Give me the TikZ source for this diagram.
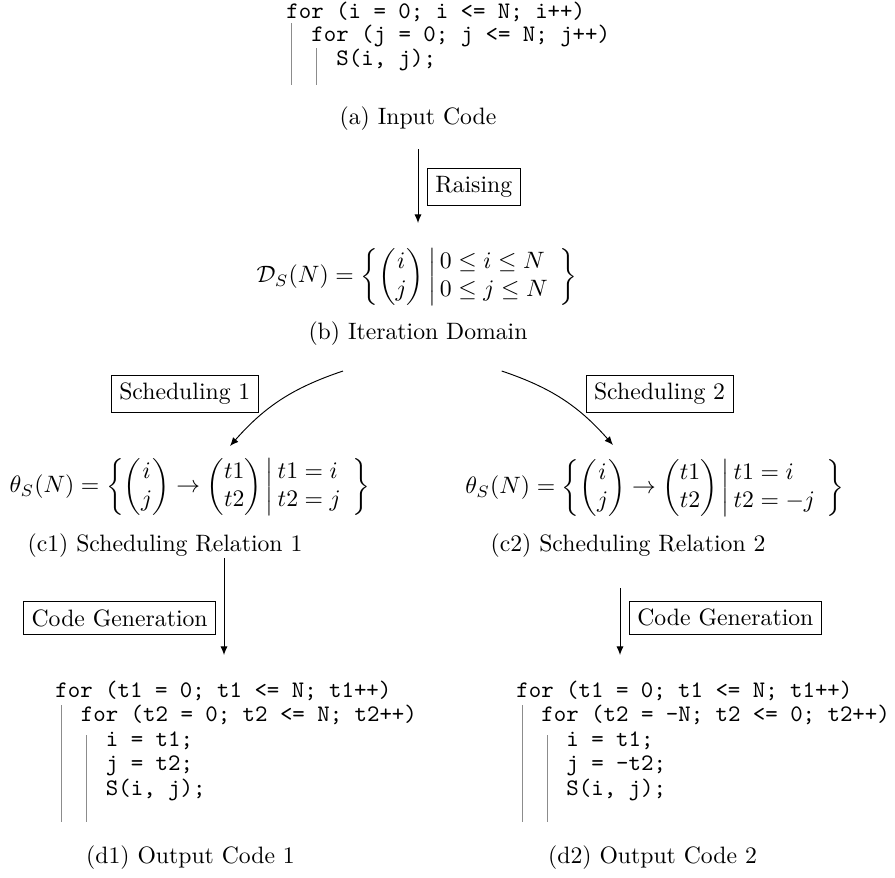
\documentclass[tikz,border=0pt]{standalone}
\usepackage{amsmath,amssymb}
\usepackage{tikz}
\usetikzlibrary{arrows.meta,positioning}

\tikzset{
  codeline/.style={font=\ttfamily,anchor=base west,inner sep=0pt},
  subcap/.style={inner sep=0pt},
  formula/.style={inner sep=0pt},
  stage/.style={draw,inner sep=3.33pt},
  guide/.style={draw=black!45,line width=0.4pt},
}

\begin{document}
\begin{tikzpicture}[x=0.01483cm,y=-0.01483cm,>={Latex[length=3.6pt,width=3pt]}]
\useasboundingbox (0,0) rectangle (895,878);

% (a) input code
\node[codeline] (in1) at (286,18) {for (i = 0; i <= N; i++)};
\node[codeline] (in2) at (311,41.5) {for (j = 0; j <= N; j++)};
\node[codeline] (in3) at (336,65) {S(i, j);};
\draw[guide] (291.5,23) -- (291.5,85);
\draw[guide] (316.5,48) -- (316.5,85);
\node[subcap] (capA) at (418,119) {(a) Input Code};

% raising
\coordinate (rs) at (418,149);
\coordinate (re) at (418,223);
\draw[->] (rs) -- (re);
\node[stage,anchor=west] (raise) at (427,187) {Raising};

% (b) iteration domain
\node[formula] (dom) at (417,277) {$\mathcal{D}_S(N) = \left\{ \begin{pmatrix} i \\ j \end{pmatrix} \,\middle| \begin{array}{@{\,}l} 0 \le i \le N \\ 0 \le j \le N \end{array} \right\}$};
\node[subcap] (capB) at (418,334) {(b) Iteration Domain};

% scheduling
\coordinate (s1a) at (343,371);
\coordinate (s1b) at (230,446);
\coordinate (s2a) at (501.7,371);
\coordinate (s2b) at (613,445);
\draw[->] (s1a) to[bend right=15] (s1b);
\draw[->] (s2a) to[bend left=15] (s2b);
\node[stage,anchor=east] (sched1) at (258.7,394) {Scheduling 1};
\node[stage,anchor=west] (sched2) at (585.7,394) {Scheduling 2};

% (c1) / (c2) scheduling relations
\node[formula] (rel1) at (190,487) {$\theta_S(N) = \left\{ \begin{pmatrix} i \\ j \end{pmatrix} \to \begin{pmatrix} t1 \\ t2 \end{pmatrix} \,\middle| \begin{array}{@{\,}l} t1 = i \\ t2 = j \end{array} \right\}$};
\node[formula] (rel2) at (655,488) {$\theta_S(N) = \left\{ \begin{pmatrix} i \\ j \end{pmatrix} \to \begin{pmatrix} t1 \\ t2 \end{pmatrix} \,\middle| \begin{array}{@{\,}l} t1 = i \\ t2 = -j \end{array} \right\}$};
\node[subcap] (capC1) at (165,546) {(c1) Scheduling Relation 1};
\node[subcap] (capC2) at (628,546) {(c2) Scheduling Relation 2};

% code generation
\coordinate (g1a) at (224,558);
\coordinate (g1b) at (224,655);
\coordinate (g2a) at (620,588);
\coordinate (g2b) at (620,655);
\draw[->] (g1a) -- (g1b);
\draw[->] (g2a) -- (g2b);
\node[stage,anchor=east] (gen1) at (216,618) {Code Generation};
\node[stage,anchor=west] (gen2) at (629,617.5) {Code Generation};

% (d1) output code 1
\node[codeline] (oa1) at (55,697) {for (t1 = 0; t1 <= N; t1++)};
\node[codeline] (oa2) at (80.5,721.5) {for (t2 = 0; t2 <= N; t2++)};
\node[codeline] (oa3) at (105.5,746) {i = t1;};
\node[codeline] (oa4) at (105.5,770.5) {j = t2;};
\node[codeline] (oa5) at (105.5,795) {S(i, j);};
\draw[guide] (61,705) -- (61,822);
\draw[guide] (86,735) -- (86,822);
\node[subcap] (capD1) at (190.5,858) {(d1) Output Code 1};

% (d2) output code 2
\node[codeline] (ob1) at (516,697) {for (t1 = 0; t1 <= N; t1++)};
\node[codeline] (ob2) at (541,721.5) {for (t2 = -N; t2 <= 0; t2++)};
\node[codeline] (ob3) at (566,746) {i = t1;};
\node[codeline] (ob4) at (566,770.5) {j = -t2;};
\node[codeline] (ob5) at (566,795) {S(i, j);};
\draw[guide] (522.5,705) -- (522.5,822);
\draw[guide] (547,735) -- (547,822);
\node[subcap] (capD2) at (652.5,858) {(d2) Output Code 2};
\end{tikzpicture}
\end{document}
